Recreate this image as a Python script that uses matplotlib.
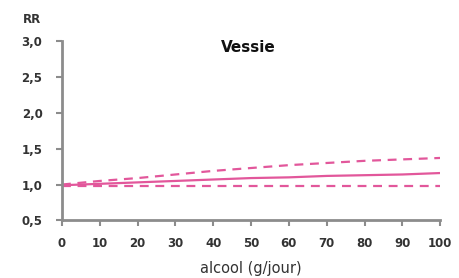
import matplotlib
matplotlib.use("Agg")
import matplotlib.pyplot as plt

alcool = [0, 10, 20, 30, 40, 50, 60, 70, 80, 90, 100]
rr = [0.99, 1.01, 1.03, 1.05, 1.07, 1.09, 1.10, 1.12, 1.13, 1.14, 1.16]
rr_haut = [1.00, 1.05, 1.09, 1.14, 1.19, 1.23, 1.27, 1.30, 1.33, 1.35, 1.37]
rr_bas = [0.98, 0.98, 0.98, 0.98, 0.98, 0.98, 0.98, 0.98, 0.98, 0.98, 0.98]

yticks = [0.5, 1.0, 1.5, 2.0, 2.5, 3.0]
ytick_labels = ["0,5", "1,0", "1,5", "2,0", "2,5", "3,0"]
xticks = list(range(0, 101, 10))

pink = "#e2579b"
grey = "#8c8c8c"
txt = "#333333"

fig = plt.figure(figsize=(4.59, 2.78), dpi=100)
ax = fig.add_axes([0.135, 0.207, 0.824, 0.646])

ax.plot(alcool, rr, color=pink, lw=1.6)
ax.plot(alcool, rr_haut, color=pink, lw=1.6, ls=(0, (4, 3)))
ax.plot(alcool, rr_bas, color=pink, lw=1.6, ls=(0, (4, 3)))

ax.set_xlim(0, 100)
ax.set_ylim(0.5, 3.0)
ax.set_xticks(xticks)
ax.set_yticks(yticks)
ax.set_yticklabels(ytick_labels)

for s in ["top", "right"]:
    ax.spines[s].set_visible(False)
for s in ["left", "bottom"]:
    ax.spines[s].set_color(grey)
    ax.spines[s].set_linewidth(2)

ax.tick_params(colors=grey, labelcolor=txt, labelsize=8.5, width=1.5, length=4)
ax.tick_params(axis="x", pad=8)
ax.tick_params(axis="y", pad=10)
for lab in ax.get_xticklabels() + ax.get_yticklabels():
    lab.set_fontweight("bold")

ax.set_xlabel("alcool (g/jour)", fontsize=10.5, color=txt, labelpad=8)
ax.text(0.05, 0.93, "RR", transform=fig.transFigure, fontsize=8.5,
        fontweight="bold", color=txt, ha="left", va="center")
ax.text(0.54, 0.83, "Vessie", transform=fig.transFigure, fontsize=11,
        fontweight="bold", color="#111111", ha="center", va="center")

fig.savefig("out.png", dpi=100)
